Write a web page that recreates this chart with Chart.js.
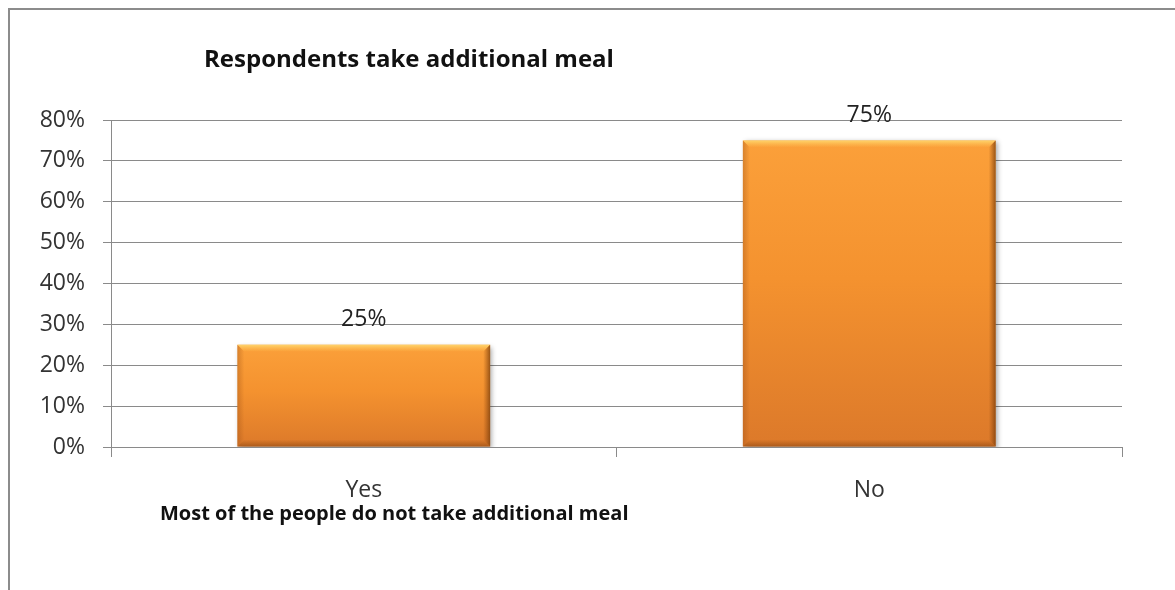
<!DOCTYPE html>
<html>
<head>
<meta charset="utf-8">
<script src="https://cdn.jsdelivr.net/npm/chart.js@4/dist/chart.umd.min.js"></script>
<style>
  body { margin: 0; background: #fff; }
  #chartId { display: block; }
</style>
</head>
<body>
<canvas id="chartId" width="1175" height="590"></canvas>
<script>
// survey answers and their share of respondents (in %)
const answers = ['Yes', 'No'];
const shares = [25, 75];
const yTicks = [0, 10, 20, 30, 40, 50, 60, 70, 80];

const titleText = 'Respondents take additional meal';
const noteText = 'Most of the people do not take additional meal';

const FONT = '"Open Sans", "Liberation Sans", sans-serif';
const GRID = '#8a8a8a';

// gradient for every bar, from its top to the base line
function barFill(context) {
  const chart = context.chart;
  const y = chart.scales.y;
  if (!y || context.raw === undefined) return '#f7962f';
  const top = y.getPixelForValue(context.raw);
  const bottom = y.getPixelForValue(0);
  if (!isFinite(top) || !isFinite(bottom) || top === bottom) return '#f7962f';
  const g = chart.ctx.createLinearGradient(0, top, 0, bottom);
  g.addColorStop(0, '#fba03a');
  g.addColorStop(0.45, '#f4922f');
  g.addColorStop(1, '#dc792a');
  return g;
}

// outer frame, title and note under the axis
const frameAndText = {
  id: 'frameAndText',
  beforeDraw(chart) {
    const ctx = chart.ctx;
    ctx.save();
    ctx.fillStyle = '#fff';
    ctx.fillRect(0, 0, chart.width, chart.height);
    ctx.strokeStyle = '#8c8c8c';
    ctx.lineWidth = 2;
    ctx.beginPath();
    ctx.moveTo(9, chart.height);
    ctx.lineTo(9, 9);
    ctx.lineTo(chart.width, 9);
    ctx.stroke();
    ctx.restore();
  },
  afterDraw(chart) {
    const ctx = chart.ctx;
    ctx.save();
    ctx.fillStyle = '#111';
    ctx.textBaseline = 'middle';
    ctx.textAlign = 'left';
    ctx.font = 'bold 24px ' + FONT;
    ctx.fillText(titleText, 204, 60);
    ctx.font = 'bold 20px ' + FONT;
    ctx.fillText(noteText, 160, 514);
    ctx.restore();
  }
};

// bevel edges, shadow and value labels on the bars
const barBevel = {
  id: 'barBevel',
  beforeDatasetsDraw(chart) {
    const ctx = chart.ctx;
    ctx.save();
    ctx.shadowColor = 'rgba(0,0,0,0.35)';
    ctx.shadowBlur = 5;
    ctx.shadowOffsetX = 2;
    ctx.shadowOffsetY = 2;
  },
  afterDatasetsDraw(chart) {
    const ctx = chart.ctx;
    ctx.restore();
    const meta = chart.getDatasetMeta(0);
    const b = 7;
    meta.data.forEach(function (bar, i) {
      const l = bar.x - bar.width / 2, r = bar.x + bar.width / 2;
      const t = bar.y, btm = bar.base;
      ctx.save();
      // top light edge
      let g = ctx.createLinearGradient(0, t, 0, t + b);
      g.addColorStop(0, 'rgba(255,214,110,0.95)');
      g.addColorStop(1, 'rgba(255,200,90,0)');
      ctx.fillStyle = g;
      ctx.beginPath();
      ctx.moveTo(l, t); ctx.lineTo(r, t); ctx.lineTo(r - b, t + b); ctx.lineTo(l + b, t + b);
      ctx.closePath(); ctx.fill();
      // right dark edge
      g = ctx.createLinearGradient(r - b, 0, r, 0);
      g.addColorStop(0, 'rgba(140,70,15,0)');
      g.addColorStop(1, 'rgba(120,60,10,0.75)');
      ctx.fillStyle = g;
      ctx.beginPath();
      ctx.moveTo(r, t); ctx.lineTo(r, btm); ctx.lineTo(r - b, btm - b); ctx.lineTo(r - b, t + b);
      ctx.closePath(); ctx.fill();
      // bottom dark edge
      g = ctx.createLinearGradient(0, btm - b, 0, btm);
      g.addColorStop(0, 'rgba(140,70,15,0)');
      g.addColorStop(1, 'rgba(130,65,15,0.55)');
      ctx.fillStyle = g;
      ctx.beginPath();
      ctx.moveTo(l, btm); ctx.lineTo(r, btm); ctx.lineTo(r - b, btm - b); ctx.lineTo(l + b, btm - b);
      ctx.closePath(); ctx.fill();
      // left edge, slightly darker
      g = ctx.createLinearGradient(l, 0, l + b, 0);
      g.addColorStop(0, 'rgba(150,75,20,0.35)');
      g.addColorStop(1, 'rgba(150,75,20,0)');
      ctx.fillStyle = g;
      ctx.beginPath();
      ctx.moveTo(l, t); ctx.lineTo(l + b, t + b); ctx.lineTo(l + b, btm - b); ctx.lineTo(l, btm);
      ctx.closePath(); ctx.fill();

      // value label
      ctx.fillStyle = '#222';
      ctx.font = '23px ' + FONT;
      ctx.textAlign = 'center';
      ctx.textBaseline = 'middle';
      ctx.fillText(shares[i] + '%', bar.x, bar.y - 25);
      ctx.restore();
    });
  }
};

const ctx = document.getElementById('chartId').getContext('2d');
const newChart = new Chart(ctx, {
  type: 'bar',
  data: {
    labels: answers,
    datasets: [{
      data: shares,
      backgroundColor: barFill,
      borderWidth: 0,
      barPercentage: 0.5,
      categoryPercentage: 1.0
    }]
  },
  options: {
    responsive: false,
    animation: false,
    events: [],
    layout: { padding: { left: 0, right: 53, top: 120, bottom: 0 } },
    plugins: {
      legend: { display: false },
      tooltip: { enabled: false }
    },
    scales: {
      x: {
        offset: true,
        grid: { offset: true, drawOnChartArea: false, drawTicks: true, tickLength: 10, color: GRID },
        border: { color: GRID },
        ticks: { color: '#333', font: { family: FONT, size: 23 }, padding: 20 },
        afterFit(scale) { scale.height = 143; }
      },
      y: {
        min: 0,
        max: 80,
        afterBuildTicks(scale) { scale.ticks = yTicks.map(v => ({ value: v })); },
        grid: { color: GRID, tickLength: 8 },
        border: { color: GRID },
        ticks: {
          color: '#333',
          font: { family: FONT, size: 23 },
          padding: 18,
          callback: v => v + '%'
        },
        afterFit(scale) { scale.width = 111; }
      }
    }
  },
  plugins: [frameAndText, barBevel]
});
</script>
</body>
</html>
